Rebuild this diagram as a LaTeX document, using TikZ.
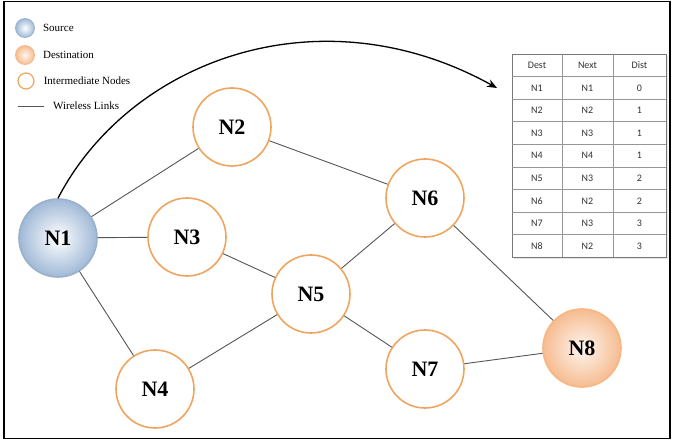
\documentclass[tikz,border=0pt]{standalone}
\usepackage{fontspec}
\setmainfont{Liberation Serif}
\newfontfamily\tabfont{Carlito}
\usetikzlibrary{arrows.meta,positioning,shadows}
\definecolor{NOrange}{RGB}{240,165,95}
\definecolor{SBlue}{RGB}{160,185,215}
\definecolor{DPeach}{RGB}{246,188,145}
\definecolor{LGray}{RGB}{85,85,85}
\definecolor{TGray}{RGB}{150,150,150}

\tikzset{
  mnode/.style={circle, draw=NOrange, line width=1.6pt, fill=white,
    minimum size=78pt, inner sep=0pt,
    font=\fontsize{22}{22}\selectfont\bfseries},
  srcnode/.style={mnode, draw=SBlue!85!gray, inner color=white, outer color=SBlue},
  dstnode/.style={mnode, draw=DPeach!90!orange, inner color=DPeach!15, outer color=DPeach},
  link/.style={draw=LGray, line width=0.9pt},
  legtext/.style={font=\fontsize{11}{13}\selectfont, inner sep=1pt, anchor=west},
  tabline/.style={draw=TGray, line width=0.6pt},
  tabtext/.style={font=\tabfont\fontsize{10}{12}\selectfont, text=black!80}
}

\begin{document}
\begin{tikzpicture}[x=1pt,y=-1pt]
  \useasboundingbox (0,0) rectangle (673,441);
  \draw[line width=1.6pt] (4,1.5) rectangle (670,438.5);

  % legend
  \node[circle, minimum size=19pt, inner sep=0pt, draw=SBlue!85!gray, line width=0.8pt,
    inner color=white, outer color=SBlue] (lsrc) at (25,28) {};
  \node[legtext, right=7pt of lsrc] (lsrct) {Source};
  \node[circle, minimum size=19pt, inner sep=0pt, draw=DPeach!90!orange, line width=0.8pt,
    inner color=DPeach!15, outer color=DPeach] (ldst) at (25,55) {};
  \node[legtext, right=7pt of ldst] (ldstt) {Destination};
  \node[circle, minimum size=16pt, inner sep=0pt, draw=NOrange, line width=1.2pt,
    fill=white] (lint) at (26,81) {};
  \node[legtext, right=8pt of lint] (lintt) {Intermediate Nodes};
  \coordinate (lwa) at (18,106);
  \coordinate (lwb) at (44,106);
  \draw[link] (lwa) -- (lwb);
  \node[legtext, right=8pt of lwb] (lwt) {Wireless Links};

  % network
  \node[srcnode] (n1) at (58,238) {N1};
  \node[mnode] (n2) at (232,127) {N2};
  \node[mnode] (n3) at (187,237) {N3};
  \node[mnode] (n4) at (155,389) {N4};
  \node[mnode] (n5) at (311,294) {N5};
  \node[mnode] (n6) at (425,198) {N6};
  \node[mnode] (n7) at (425,369) {N7};
  \node[dstnode] (n8) at (582,348) {N8};

  \draw[link] (n1) -- (n2);
  \draw[link] (n1) -- (n3);
  \draw[link] (n1) -- (n4);
  \draw[link] (n2) -- (n6);
  \draw[link] (n3) -- (n5);
  \draw[link] (n4) -- (n5);
  \draw[link] (n5) -- (n6);
  \draw[link] (n5) -- (n7);
  \draw[link] (n6) -- (n8);
  \draw[link] (n7) -- (n8);

  % routing table of N1
  \node[draw=TGray!80!black, line width=0.8pt, fill=white, minimum width=154pt,
    minimum height=203pt, inner sep=0pt,
    drop shadow={opacity=0.2, shadow xshift=2pt, shadow yshift=-2pt}]
    (rtab) at (589,155.5) {};
  \foreach \k in {1,...,8}
    \draw[tabline] (512,54+22.6*\k) -- (666,54+22.6*\k);
  \draw[tabline] (562,54) -- (562,257);
  \draw[tabline] (613,54) -- (613,257);
  \foreach \de/\nx/\ds [count=\i] in {Dest/Next/Dist, N1/N1/0, N2/N2/1, N3/N3/1,
      N4/N4/1, N5/N3/2, N6/N2/2, N7/N3/3, N8/N2/3} {
    \node[tabtext] (rd\i) at (537,54+22.6*\i-11.3) {\de};
    \node[tabtext] (rn\i) at (587.5,54+22.6*\i-11.3) {\nx};
    \node[tabtext] (rs\i) at (639.5,54+22.6*\i-11.3) {\ds};
  }

  \coordinate (tabin) at (497,88);
  \draw[line width=1.3pt, -{Stealth[length=10pt,width=8pt]}]
    (n1.north) .. controls (130,60) and (320,-10) .. (tabin);
\end{tikzpicture}
\end{document}
